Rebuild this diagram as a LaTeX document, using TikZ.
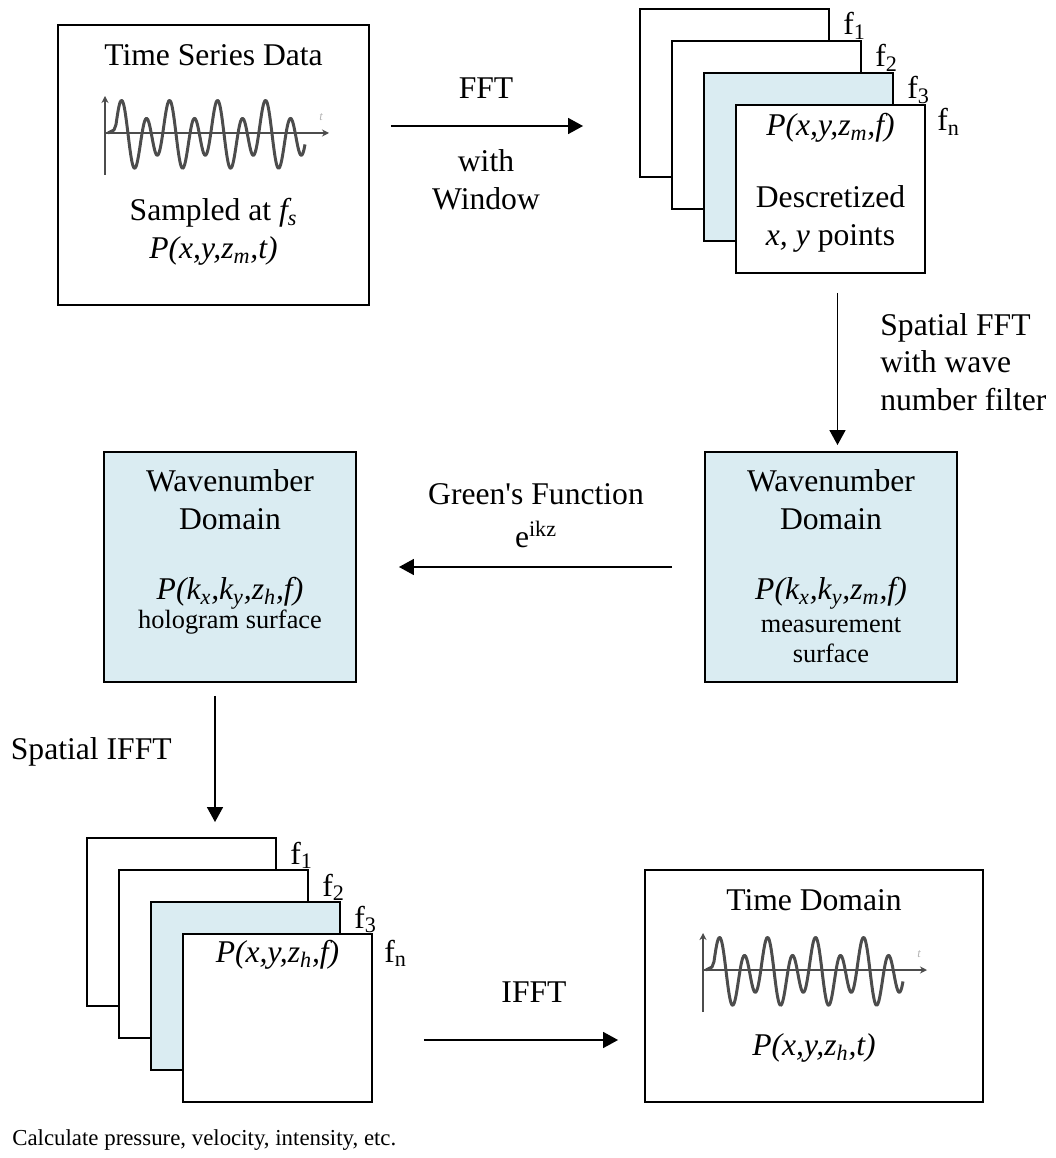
\documentclass[tikz,border=0pt]{standalone}
\usepackage{fontspec}
\setmainfont{Liberation Serif}
\newfontfamily\plainquote{Liberation Serif}[Ligatures=TeXOff]
\usetikzlibrary{arrows.meta}

\definecolor{panelblue}{HTML}{DAECF2}

% small time trace: name of the t mark, axis origin x, axis origin y
\newcommand\sigtrace[3]{%
  \draw[sigaxis] (#2,#3+42) -- (#2,#3-37);
  \draw[sigaxis] (#2,#3) -- (#2+224,#3);
  \draw[sigline] (#2+3,#3) -- (#2+9,#3-3) -- plot[domain=11:200, samples=180, smooth]
    ({#2+\x},{#3-26*cos(15*(\x-17))-9*cos(7.5*(\x-17))+6.5*sin(7.5*(\x-17))+2.5});
  \node[sigmark] (#1) at (#2+216,#3-16) {t};
}

\begin{document}
\begin{tikzpicture}[x=0.02cm, y=-0.02cm,
    box/.style={draw, line width=1.1pt, inner sep=0pt},
    frame/.style={box, fill=white, minimum width=3.78cm, minimum height=3.36cm},
    lbl/.style={inner sep=0pt, align=center, font=\fontsize{18}{21.5}\selectfont},
    lblsm/.style={lbl, font=\fontsize{15}{17}\selectfont},
    flab/.style={lbl, anchor=base west},
    flow/.style={line width=1.1pt, -{Triangle[length=8.5pt,width=9pt]}},
    sigaxis/.style={gray!60!black, line width=0.8pt, -{Stealth[length=4pt,width=4pt]}},
    sigline/.style={black!70, line width=1.7pt, line join=round},
    sigmark/.style={inner sep=0pt, text=black!30, font=\fontsize{7}{7}\selectfont\itshape}]
  \useasboundingbox (0,0) rectangle (1055,1158);

  % time series input
  \node[box, minimum width=6.22cm, minimum height=5.6cm] (tsd) at (213.5,165) {};
  \node[lbl] (tsdT) at (213.5,55) {Time Series Data};
  \sigtrace{tsdM}{105}{133}
  \node[lbl] (tsdS) at (213.5,232) {Sampled at \textit{f\textsubscript{s}}\\
    \textit{P(x,y,z\textsubscript{m},t)}};

  % frequency slices, measurement plane
  \node[frame] (sf1) at (734.5,93) {};
  \node[frame] (sf2) at (766.5,125) {};
  \node[frame, fill=panelblue] (sf3) at (798.5,157) {};
  \node[frame] (sfn) at (830.5,189) {};
  \node[flab] (sl1) at (843,35) {f\textsubscript{1}};
  \node[flab] (sl2) at (875,67) {f\textsubscript{2}};
  \node[flab] (sl3) at (907,99) {f\textsubscript{3}};
  \node[flab] (sln) at (937,131) {f\textsubscript{n}};
  \node[lbl] (sfP) at (830.5,128) {\textit{P(x,y,z\textsubscript{m},f)}};
  \node[lbl] (sfD) at (830.5,219) {Descretized\\ \textit{x, y} points};

  % wavenumber domain boxes
  \node[box, fill=panelblue, minimum width=5.04cm, minimum height=4.6cm] (wnm) at (831,567) {};
  \node[lbl] (wnmT) at (831,500) {Wavenumber\\Domain};
  \node[lbl] (wnmP) at (831,593) {\textit{P(k\textsubscript{x},k\textsubscript{y},z\textsubscript{m},f)}};
  \node[lblsm] (wnmS) at (831,640) {measurement\\surface};

  \node[box, fill=panelblue, minimum width=5.04cm, minimum height=4.6cm] (wnh) at (230,567) {};
  \node[lbl] (wnhT) at (230,500) {Wavenumber\\Domain};
  \node[lbl] (wnhP) at (230,593) {\textit{P(k\textsubscript{x},k\textsubscript{y},z\textsubscript{h},f)}};
  \node[lblsm] (wnhS) at (230,622) {hologram surface};

  % frequency slices, hologram plane
  \node[frame] (bf1) at (181.5,922) {};
  \node[frame] (bf2) at (213.5,954) {};
  \node[frame, fill=panelblue] (bf3) at (245.5,986) {};
  \node[frame] (bfn) at (277.5,1018) {};
  \node[flab] (bl1) at (290,864) {f\textsubscript{1}};
  \node[flab] (bl2) at (322,896) {f\textsubscript{2}};
  \node[flab] (bl3) at (354,928) {f\textsubscript{3}};
  \node[flab] (bln) at (384,962) {f\textsubscript{n}};
  \node[lbl] (bfP) at (277.5,955) {\textit{P(x,y,z\textsubscript{h},f)}};

  % time domain output
  \node[box, minimum width=6.76cm, minimum height=4.64cm] (tdd) at (814,986) {};
  \node[lbl] (tddT) at (814,900) {Time Domain};
  \sigtrace{tddM}{703}{970}
  \node[lbl] (tddP) at (814,1048) {\textit{P(x,y,z\textsubscript{h},t)}};

  % processing steps
  \draw[flow, shorten <=0.42cm, shorten >=1.12cm] ([yshift=0.78cm]tsd.east) -- ([yshift=0.78cm]tsd.east -| sf1.west);
  \node[lbl] (fftT) at (486,88) {FFT};
  \node[lbl] (fftW) at (486,180) {with\\Window};

  \draw[flow, shorten <=0.38cm, shorten >=0.12cm] ([xshift=0.14cm]sfn.south) -- ([xshift=0.14cm]sfn.south |- wnm.north);
  \node[lbl, anchor=west, align=left] (sfftT) at (880,362) {Spatial FFT\\with wave\\number filter};

  \draw[flow, shorten <=0.64cm, shorten >=0.84cm] (wnm.west) -- (wnh.east);
  \node[lbl, font=\plainquote\fontsize{18}{21.5}\selectfont] (grnT) at (536,494) {Green's Function};
  \node[lbl] (grnE) at (536,534) {e\textsuperscript{ikz}};

  \draw[flow, shorten <=0.26cm, shorten >=0.3cm] ([xshift=-0.3cm]wnh.south) -- ([xshift=-0.3cm]wnh.south |- bf1.north);
  \node[lbl, anchor=east] (sifT) at (172,752) {Spatial IFFT};

  \draw[flow, shorten <=1.02cm, shorten >=0.52cm] ([yshift=-0.44cm]bfn.east) -- ([yshift=-0.44cm]bfn.east -| tdd.west);
  \node[lbl] (ifftT) at (534,992) {IFFT};

  \node[lbl, anchor=west, font=\fontsize{13}{15}\selectfont] (note) at (12,1140) {Calculate pressure, velocity, intensity, etc.};
\end{tikzpicture}
\end{document}
